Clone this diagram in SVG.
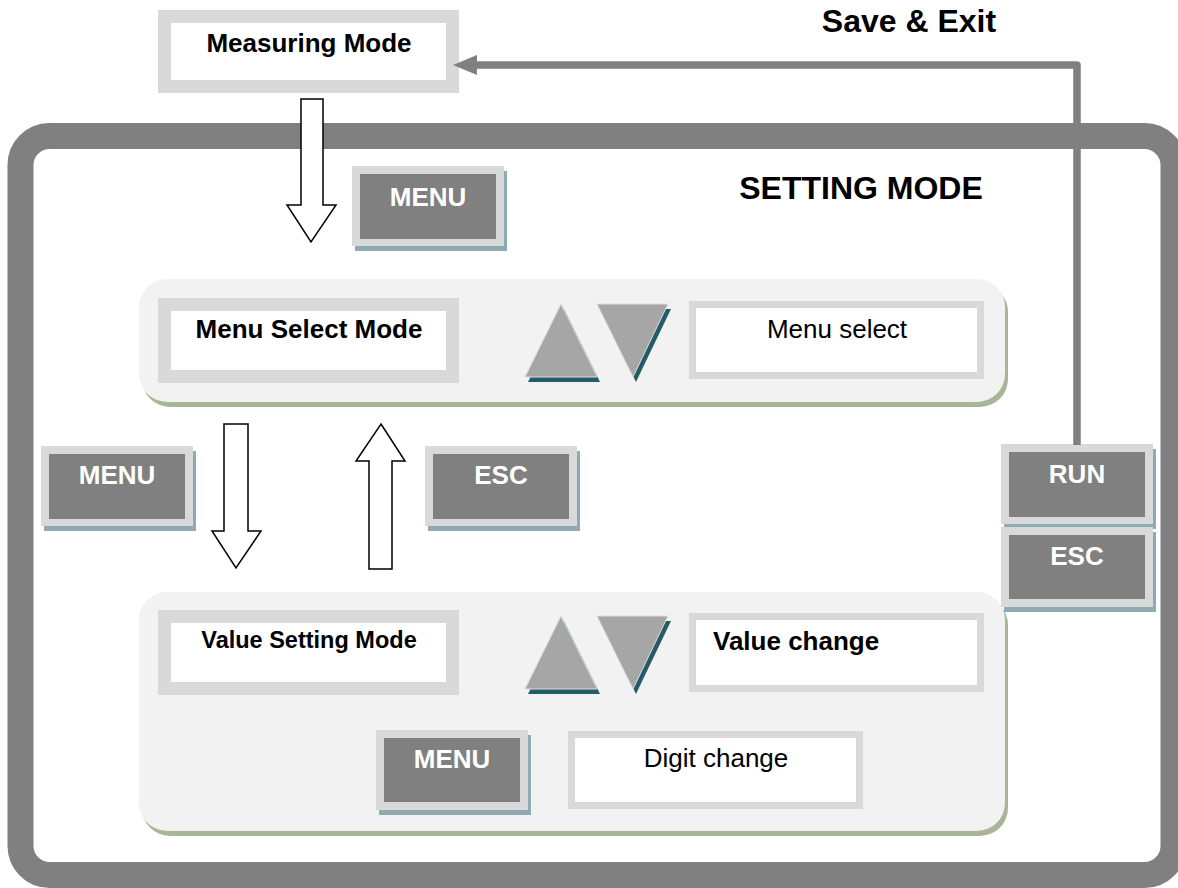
<svg xmlns="http://www.w3.org/2000/svg" width="1178" height="888" viewBox="0 0 1178 888">
<style>
text{font-family:"Liberation Sans",Arial,sans-serif;font-size:26px;fill:#000}
.b{font-weight:bold}
.w{fill:#fff;font-weight:bold}
.c{text-anchor:middle}
.modebox{fill:#fff;stroke:#d9d9d9;stroke-width:13}
.infobox{fill:#fff;stroke:#d9d9d9;stroke-width:7}
.btnsh{fill:#8eaab3}
.btnout{fill:#d9d9d9}
.btnin{fill:#808080}
.panel{fill:#f2f2f2}
.panelsh{fill:#a9b597}
.tri{fill:#a6a6a6;stroke:#dcdcdc;stroke-width:1}
.trish{fill:#245b67}
.hollow{fill:#fff;stroke:#000;stroke-width:1.5;stroke-linejoin:miter}
</style>
<rect width="1178" height="888" fill="#fff"/>

<g id="setting-frame">
<rect x="20.5" y="136" width="1153" height="739" rx="29" ry="29" fill="#fff" stroke="#808080" stroke-width="26"/>
<text class="b c" x="861" y="199" style="font-size:32px">SETTING MODE</text>
</g>

<g id="save-exit-label">
<text class="b c" x="909" y="32" style="font-size:32px">Save &amp; Exit</text>
</g>

<g id="panel-menu-select">
<rect class="panelsh" x="142" y="284" width="866" height="123" rx="28"/>
<rect class="panel" x="139" y="279" width="866" height="123" rx="28"/>
</g>

<g id="panel-value-setting">
<rect class="panelsh" x="142" y="597" width="866" height="239" rx="28"/>
<rect class="panel" x="139" y="592" width="866" height="239" rx="28"/>
</g>

<g id="measuring-mode">
<rect class="modebox" x="164.5" y="16.5" width="288" height="70"/>
<text class="b c" x="309" y="52">Measuring Mode</text>
</g>

<g id="menu-select-mode">
<rect class="modebox" x="164.5" y="304.5" width="288" height="72"/>
<text class="b c" x="309" y="338">Menu Select Mode</text>
</g>

<g id="value-setting-mode">
<rect class="modebox" x="164.5" y="616.5" width="288" height="72"/>
<text class="b c" x="309" y="648" style="font-size:23.5px">Value Setting Mode</text>
</g>

<g id="updown-1">
<polygon class="trish" points="564,309 600,382 528,382"/>
<polygon class="tri" points="561,304 597,377 525,377"/>
<polygon class="trish" points="600,309 671,309 636,382"/>
<polygon class="tri" points="597,304 668,304 633,377"/>
</g>

<g id="updown-2">
<polygon class="trish" points="564,621 600,694 528,694"/>
<polygon class="tri" points="561,616 597,689 525,689"/>
<polygon class="trish" points="600,621 671,621 636,694"/>
<polygon class="tri" points="597,616 668,616 633,689"/>
</g>

<g id="menu-select">
<rect class="infobox" x="692.5" y="304.5" width="288" height="71"/>
<text class="c" x="837" y="338">Menu select</text>
</g>

<g id="value-change">
<rect class="infobox" x="692.5" y="616.5" width="288" height="72"/>
<text class="b" x="713" y="650">Value change</text>
</g>

<g id="digit-change">
<rect class="infobox" x="571.5" y="734.5" width="288" height="71"/>
<text class="c" x="716" y="767">Digit change</text>
</g>

<g id="btn-menu-top">
<rect class="btnsh" x="355" y="171" width="152" height="80"/>
<rect class="btnout" x="352" y="166" width="152" height="80"/>
<rect class="btnin" x="360" y="174" width="136" height="65"/>
<text class="w c" x="428" y="206">MENU</text>
</g>

<g id="btn-menu-mid">
<rect class="btnsh" x="44" y="451" width="152" height="80"/>
<rect class="btnout" x="41" y="446" width="152" height="80"/>
<rect class="btnin" x="49" y="454" width="136" height="65"/>
<text class="w c" x="117" y="484">MENU</text>
</g>

<g id="btn-esc-mid">
<rect class="btnsh" x="428" y="451" width="152" height="80"/>
<rect class="btnout" x="425" y="446" width="152" height="80"/>
<rect class="btnin" x="433" y="454" width="136" height="65"/>
<text class="w c" x="501" y="484">ESC</text>
</g>

<g id="btn-run">
<rect class="btnsh" x="1004" y="449" width="152" height="80"/>
<rect class="btnout" x="1001" y="444" width="152" height="80"/>
<rect class="btnin" x="1009" y="452" width="136" height="65"/>
<text class="w c" x="1077" y="483">RUN</text>
</g>

<g id="btn-esc-right">
<rect class="btnsh" x="1004" y="532" width="152" height="80"/>
<rect class="btnout" x="1001" y="527" width="152" height="80"/>
<rect class="btnin" x="1009" y="535" width="136" height="64"/>
<text class="w c" x="1077" y="565">ESC</text>
</g>

<g id="btn-menu-bottom">
<rect class="btnsh" x="379" y="735" width="152" height="80"/>
<rect class="btnout" x="376" y="730" width="152" height="80"/>
<rect class="btnin" x="384" y="738" width="136" height="64"/>
<text class="w c" x="452" y="768">MENU</text>
</g>

<g id="connectors">
<polyline points="1077,445 1077,65 474,65" fill="none" stroke="#808080" stroke-width="7.5" stroke-linejoin="round"/>
<polygon points="453,65 477,55 477,75" fill="#808080"/>
<polygon class="hollow" points="301,99 323,99 323,205 336,205 311,242 287,205 301,205"/>
<polygon class="hollow" points="224,424 248,424 248,531 261,531 236,568 212,531 224,531"/>
<polygon class="hollow" points="381,424 405,461 392,461 392,569 369,569 369,461 356,461"/>
</g>
</svg>
